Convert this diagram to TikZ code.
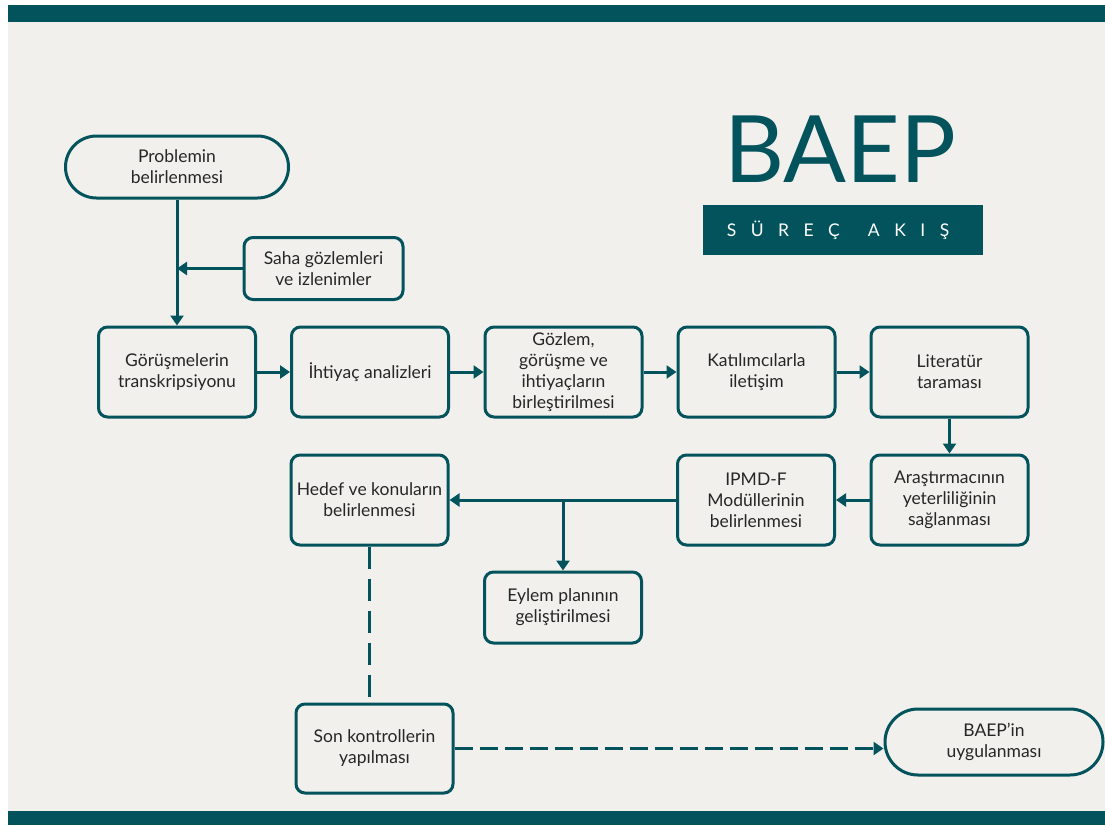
\documentclass[tikz,border=0pt]{standalone}
\usepackage{fontspec}
\setmainfont{Lato}
\usetikzlibrary{arrows.meta}

\definecolor{baepteal}{HTML}{03535D}
\definecolor{paper}{HTML}{F1F0EC}
\definecolor{ink}{HTML}{262626}

\newcommand\trk{\hspace{14.5pt}}

\begin{document}
\begin{tikzpicture}[x=1pt,y=-1pt,
  flow/.style={draw=baepteal, line width=3pt, rounded corners=9pt,
    text=ink, align=center, inner sep=0pt,
    font=\fontsize{17.5}{21}\selectfont},
  stepbox/.style={flow, minimum width=157pt, minimum height=90pt},
  pill/.style={flow, rounded corners=31pt},
  link/.style={draw=baepteal, line width=3pt},
  tip/.style={-{Triangle[length=10pt,width=13pt]}},
  arr/.style={link, tip},
  dashlink/.style={link, dash pattern=on 18pt off 7pt},
  dashdown/.style={link, dash pattern=on 22pt off 10pt},
]
% page and bars
\useasboundingbox (0,0) rectangle (1105,825);
\fill[white] (0,0) rectangle (1105,825);
\fill[paper] (8,5) rectangle (1105,825);
\fill[baepteal] (8,5) rectangle (1105,22);
\fill[baepteal] (8,811) rectangle (1105,825);

% title block
\node[anchor=base, text=baepteal, font=\fontsize{93}{93}\selectfont, inner sep=0pt]
  (title) at (840,182) {BAEP};
\node[fill=baepteal, minimum width=280pt, minimum height=50pt, inner sep=0pt]
  (banner) at (843,230) {};
\node[text=white, font=\fontsize{17.5}{20}\selectfont, inner sep=0pt]
  (bannertext) at (838,230) {S\trk Ü\trk R\trk E\trk Ç\hspace{28pt}A\trk K\trk I\trk Ş};

% start
\node[pill, minimum width=223pt, minimum height=62pt] (prob) at (177,167)
  {Problemin\\belirlenmesi};
\node[flow, minimum width=159pt, minimum height=62pt] (saha) at (323.5,268.5)
  {Saha gözlemleri\\ve izlenimler};

% first row
\node[stepbox] (trans) at (177,372) {Görüşmelerin\\transkripsiyonu};
\node[stepbox] (ihtiyac) at (370,372) {İhtiyaç analizleri};
\node[stepbox] (birles) at (563.5,372) {Gözlem,\\görüşme ve\\ihtiyaçların\\birleştirilmesi};
\node[stepbox] (katil) at (756.5,372) {Katılımcılarla\\iletişim};
\node[stepbox] (liter) at (949.5,372) {Literatür\\taraması};

% second row
\node[stepbox] (aras) at (949.5,500) {Araştırmacının\\yeterliliğinin\\sağlanması};
\node[stepbox] (ipmd) at (756,500) {IPMD-F\\Modüllerinin\\belirlenmesi};
\node[stepbox] (hedef) at (369.5,500) {Hedef ve konuların\\belirlenmesi};
\node[stepbox, minimum height=71pt] (eylem) at (563,607.5) {Eylem planının\\geliştirilmesi};

% last row
\node[stepbox, minimum height=89pt] (son) at (374.5,748.5) {Son kontrollerin\\yapılması};
\node[pill, minimum width=218pt, minimum height=66pt, rounded corners=33pt] (uyg) at (994,742)
  {BAEP’in\\uygulanması};

% connectors
\draw[arr] (prob.south) -- (trans.north);
\draw[arr] (saha.west) -- (saha.west -| prob.south);
\draw[arr] (trans.east) -- (ihtiyac.west);
\draw[arr] (ihtiyac.east) -- (birles.west);
\draw[arr] (birles.east) -- (katil.west);
\draw[arr] (katil.east) -- (liter.west);
\draw[arr] (liter.south) -- (aras.north);
\draw[arr] (aras.west) -- (ipmd.east);
\draw[arr] (ipmd.west) -- (hedef.east);
\coordinate (split) at (eylem.north |- ipmd.west);
\draw[arr] (split) -- (eylem.north);
\draw[dashdown] (hedef.south) -- (hedef.south |- son.north);
\draw[dashlink, tip] (son.east) -- (son.east -| uyg.west);
\end{tikzpicture}
\end{document}
